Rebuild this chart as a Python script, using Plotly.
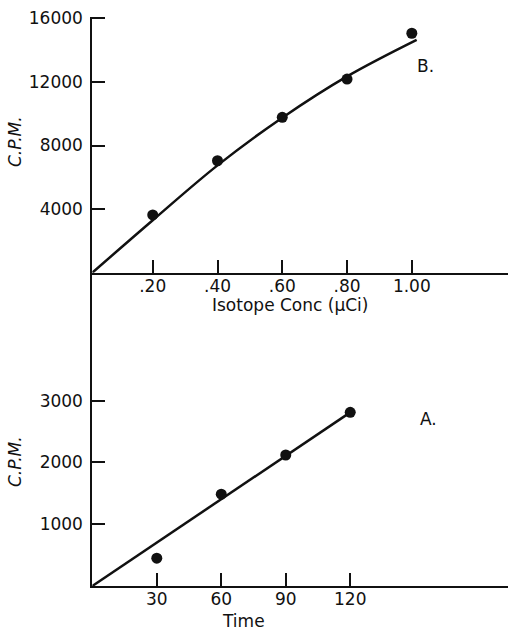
import plotly.graph_objects as go

# ---- Panel B: isotope concentration ----
conc_x = [0.20, 0.40, 0.60, 0.80, 1.00]
conc_cpm = [3630, 7040, 9770, 12180, 15060]
conc_fit_x = [0.0134, 0.20, 0.40, 0.60, 0.80, 1.015]
conc_fit_y = [0, 3300, 6750, 9750, 12350, 14650]
conc_ticks = [0.20, 0.40, 0.60, 0.80, 1.00]
conc_ticklabels = [".20", ".40", ".60", ".80", "1.00"]
cpm_b_ticks = [4000, 8000, 12000, 16000]

# ---- Panel A: time ----
time_x = [30, 60, 90, 120]
time_cpm = [450, 1485, 2120, 2810]
time_fit_x = [0, 120]
time_fit_y = [0, 2810]
time_ticks = [30, 60, 90, 120]
cpm_a_ticks = [1000, 2000, 3000]

W, H = 508, 630
FONT = "DejaVu Sans"
BLACK = "#111111"

def px_x(p):
    return p / W

def px_y(p):
    return 1 - p / H

fig = go.Figure()

fig.add_trace(go.Scatter(x=conc_fit_x, y=conc_fit_y, mode="lines",
                         line=dict(color=BLACK, width=2.5, shape="spline"),
                         xaxis="x", yaxis="y", showlegend=False, hoverinfo="skip"))
fig.add_trace(go.Scatter(x=conc_x, y=conc_cpm, mode="markers",
                         marker=dict(color=BLACK, size=11),
                         xaxis="x", yaxis="y", showlegend=False))
fig.add_trace(go.Scatter(x=time_fit_x, y=time_fit_y, mode="lines",
                         line=dict(color=BLACK, width=2.5),
                         xaxis="x2", yaxis="y2", showlegend=False, hoverinfo="skip"))
fig.add_trace(go.Scatter(x=time_x, y=time_cpm, mode="markers",
                         marker=dict(color=BLACK, size=11),
                         xaxis="x2", yaxis="y2", showlegend=False))

axis_common = dict(showline=True, linecolor=BLACK, linewidth=2, ticks="inside",
                   ticklen=13, tickwidth=2, tickcolor=BLACK, showgrid=False,
                   zeroline=False, automargin=False,
                   tickfont=dict(family=FONT, size=17, color=BLACK))

x_dom = [px_x(92.3), 1.0]
fig.update_layout(
    width=W, height=H,
    margin=dict(l=0, r=0, t=0, b=0, pad=0),
    paper_bgcolor="white", plot_bgcolor="rgba(0,0,0,0)",
    xaxis=dict(domain=x_dom, range=[0.0134, 1.297], anchor="y",
               tickmode="array", tickvals=conc_ticks, ticktext=conc_ticklabels,
               ticklabelstandoff=-3, **axis_common),
    yaxis=dict(domain=[px_y(272.7), px_y(16.7)], range=[0, 16100], anchor="x",
               tickmode="array", tickvals=cpm_b_ticks,
               ticktext=[str(v) for v in cpm_b_ticks], ticklabelstandoff=4,
               **axis_common),
    xaxis2=dict(domain=x_dom, range=[0, 193.4], anchor="y2",
                tickmode="array", tickvals=time_ticks,
                ticktext=[str(v) for v in time_ticks], ticklabelstandoff=-3,
                **axis_common),
    yaxis2=dict(domain=[px_y(586), px_y(272.7)], range=[0, 5070], anchor="x2",
                tickmode="array", tickvals=cpm_a_ticks,
                ticktext=[str(v) for v in cpm_a_ticks], ticklabelstandoff=4,
                **axis_common),
    showlegend=False,
)

ann_font = dict(family=FONT, size=17, color=BLACK)
annotations = [
    dict(text="<i>C.P.M.</i>", x=px_x(15), y=px_y(142), textangle=-90),
    dict(text="<i>C.P.M.</i>", x=px_x(15), y=px_y(462), textangle=-90),
    dict(text="Isotope Conc (μCi)", x=px_x(290), y=px_y(305)),
    dict(text="Time", x=px_x(243), y=px_y(621)),
    dict(text="B.", x=px_x(425), y=px_y(66)),
    dict(text="A.", x=px_x(428), y=px_y(419)),
]
for a in annotations:
    fig.add_annotation(xref="paper", yref="paper", showarrow=False,
                       xanchor="center", yanchor="middle", font=ann_font, **a)

fig.write_html(
    "out.html",
    config={"displayModeBar": False},
    post_script="document.body.style.margin='0';document.body.style.overflow='hidden';",
)
